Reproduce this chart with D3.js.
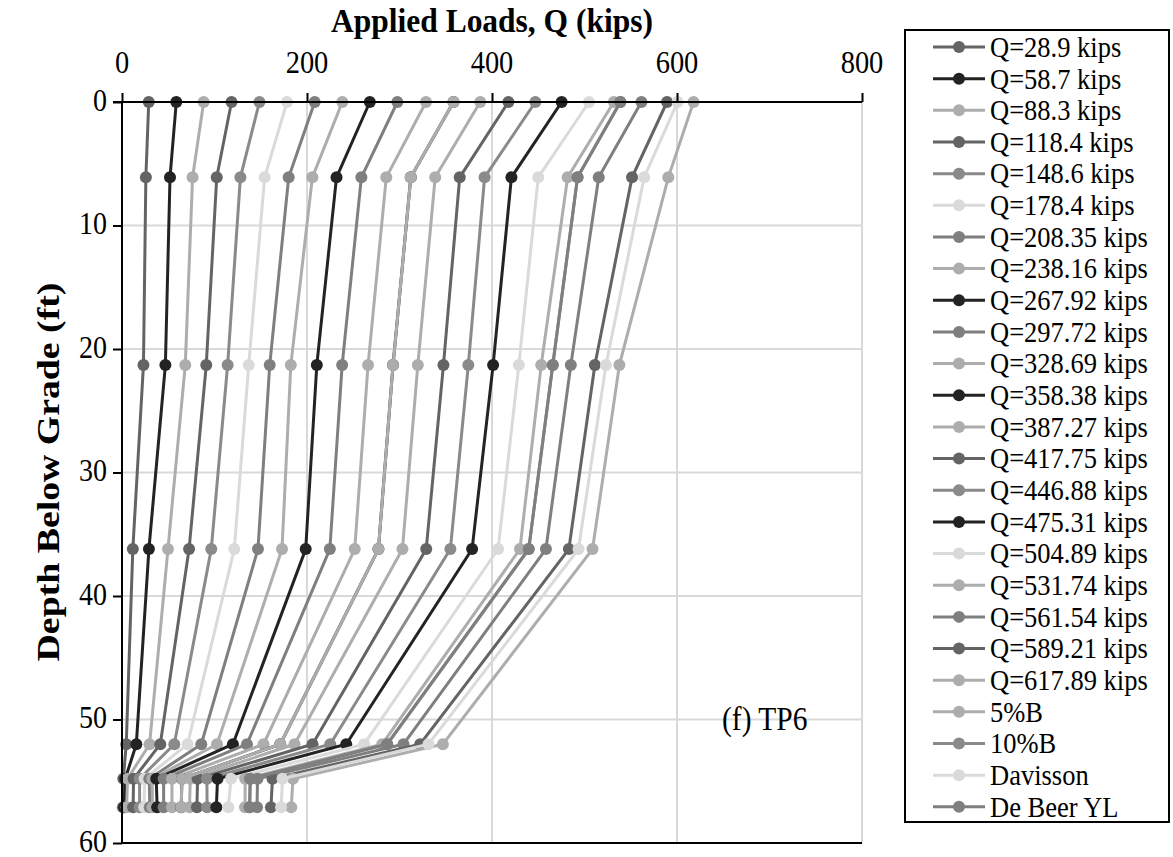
<!DOCTYPE html>
<html>
<head>
<meta charset="utf-8">
<script src="https://cdn.jsdelivr.net/npm/d3@7"></script>
<style>
  html, body { margin: 0; padding: 0; background: #fff; }
  svg { display: block; }
  text { font-family: "Liberation Serif", "Times New Roman", serif; fill: #000; }
</style>
</head>
<body>
<svg id="chart" width="1173" height="857"></svg>
<script>
// ---- data ----
const depths = [0, 6.1, 21.3, 36.2, 52, 54.8, 57.1];
const seriesNames = [
  "Q=28.9 kips", "Q=58.7 kips", "Q=88.3 kips", "Q=118.4 kips", "Q=148.6 kips",
  "Q=178.4 kips", "Q=208.35 kips", "Q=238.16 kips", "Q=267.92 kips", "Q=297.72 kips",
  "Q=328.69 kips", "Q=358.38 kips", "Q=387.27 kips", "Q=417.75 kips", "Q=446.88 kips",
  "Q=475.31 kips", "Q=504.89 kips", "Q=531.74 kips", "Q=561.54 kips", "Q=589.21 kips",
  "Q=617.89 kips", "5%B", "10%B", "Davisson", "De Beer YL"
];
const q28_9   = [28.9, 25.8, 23.2, 11.7, 4.6, 1.4, 1.0];
const q58_7   = [58.7, 51.9, 46.9, 29.1, 15.5, 3.5, 2.5];
const q88_3   = [88.3, 76.3, 68.4, 49.7, 29.8, 6, 5];
const q118_4  = [118.4, 102.4, 91.1, 72.5, 41.4, 12.5, 12];
const q148_6  = [148.6, 128, 114.2, 96.5, 56.5, 19, 19];
const q178_4  = [178.4, 154.2, 137, 121.4, 70.9, 24.4, 24];
const q208_35 = [208.35, 180.2, 159.7, 147, 85.7, 29.5, 30];
const q238_16 = [238.16, 205.8, 182.5, 173, 102.7, 32.7, 33];
const q267_92 = [267.92, 231.9, 210.6, 198.6, 119.9, 37, 38];
const q297_72 = [297.72, 258.8, 238, 224.7, 135.1, 45, 45];
const q328_69 = [328.69, 285.7, 266, 251.6, 153, 54, 54];
const q358_38 = [358.38, 312.2, 293, 277.2, 171.1, 64.8, 64];
const q387_27 = [387.27, 338.6, 319.8, 303.2, 186.5, 73.8, 73];
const q417_75 = [417.75, 365.1, 347.5, 328.9, 206, 81.7, 81];
const q446_88 = [446.88, 392, 374.4, 355, 225.1, 91.8, 92];
const q475_31 = [475.31, 421, 401.2, 378.5, 242.4, 103.3, 102];
const q504_89 = [504.89, 450, 429, 406.6, 261.8, 117.8, 115];
const q531_74 = [531.74, 481.8, 453.2, 430.2, 281.3, 133.2, 133];
const q561_54 = [561.54, 515.4, 485.2, 458.3, 304.3, 146.5, 146];
const q589_21 = [589.21, 551.4, 511.2, 483.1, 322.3, 162.7, 161];
const q617_89 = [617.89, 590.6, 537.7, 508.7, 346.9, 184.8, 183];
const b5pct   = [358.38, 312.2, 293, 277.2, 171.1, 64.8, 64];
const b10pct  = [538.8, 492.5, 465.7, 439.7, 286.7, 138.6, 138];
const davisson = [600.6, 564.5, 523.2, 493.5, 331.3, 173.5, 172];
const deBeer  = [538.8, 492.5, 465.7, 439.7, 286.7, 138.6, 138];
const seriesValues = [q28_9, q58_7, q88_3, q118_4, q148_6, q178_4, q208_35, q238_16,
  q267_92, q297_72, q328_69, q358_38, q387_27, q417_75, q446_88, q475_31, q504_89,
  q531_74, q561_54, q589_21, q617_89, b5pct, b10pct, davisson, deBeer];
const xTicks = [0, 200, 400, 600, 800];
const yTicks = [0, 10, 20, 30, 40, 50, 60];

// ---- styles ----
const C_DARK = "#646464", C_BLACK = "#232323", C_LIGHT = "#adadad",
      C_MID = "#8a8a8a", C_VLIGHT = "#dadada", C_MID2 = "#7f7f7f";
const seriesColors = [C_DARK, C_BLACK, C_LIGHT, C_DARK, C_MID, C_VLIGHT, C_MID2, C_LIGHT,
  C_BLACK, C_MID2, C_LIGHT, C_BLACK, C_LIGHT, C_DARK, C_MID, C_BLACK, C_VLIGHT, C_LIGHT,
  C_MID2, C_DARK, C_LIGHT, C_LIGHT, C_MID, C_VLIGHT, C_MID2];

const svg = d3.select("#chart");
const L = 122, R = 862, T = 102, B = 843;
const x = d3.scaleLinear().domain([0, 800]).range([L, R]);
const y = d3.scaleLinear().domain([0, 60]).range([T, B]);

// text with a slight vertical stretch (the reference text is taller than wide)
function sText(parent, px, py, str, size, opts = {}) {
  const s = opts.stretch || 1.12;
  const t = parent.append("text")
    .attr("transform", `translate(${px},${py}) scale(1,${s})${opts.rotate ? " rotate(-90)" : ""}`)
    .attr("font-size", size)
    .attr("text-anchor", opts.anchor || "start")
    .attr("dominant-baseline", opts.baseline || "auto")
    .text(str);
  if (opts.bold) t.attr("font-weight", "bold");
  return t;
}

// gridlines
const grid = svg.append("g");
grid.selectAll("line.v").data(xTicks.filter(d => d > 0)).enter().append("line")
  .attr("x1", d => x(d)).attr("x2", d => x(d)).attr("y1", T).attr("y2", B)
  .attr("stroke", "#d9d9d9").attr("stroke-width", 2);
grid.selectAll("line.h").data(yTicks.filter(d => d > 0 && d < 60)).enter().append("line")
  .attr("x1", L).attr("x2", R).attr("y1", d => y(d)).attr("y2", d => y(d))
  .attr("stroke", "#d9d9d9").attr("stroke-width", 2);

// bottom border line
svg.append("line").attr("x1", L).attr("x2", R).attr("y1", B).attr("y2", B)
  .attr("stroke", "#000").attr("stroke-width", 2);

// series
const line = d3.line().x(d => x(d[0])).y(d => y(d[1]));
seriesValues.forEach((vals, i) => {
  const pts = vals.map((v, j) => [v, depths[j]]);
  const g = svg.append("g");
  g.append("path").attr("d", line(pts)).attr("fill", "none")
    .attr("stroke", seriesColors[i]).attr("stroke-width", 3);
  g.selectAll("circle").data(pts).enter().append("circle")
    .attr("cx", d => x(d[0])).attr("cy", d => y(d[1])).attr("r", 6)
    .attr("fill", seriesColors[i]);
});

// axes (lines and ticks from d3 axes; labels drawn with stretch)
const xAxis = svg.append("g").attr("transform", `translate(0,${T})`)
  .call(d3.axisTop(x).tickValues(xTicks).tickSize(9).tickSizeOuter(0).tickFormat(""));
const yAxis = svg.append("g").attr("transform", `translate(${L},0)`)
  .call(d3.axisLeft(y).tickValues(yTicks).tickSize(9).tickSizeOuter(0).tickFormat(""));
[xAxis, yAxis].forEach(a => {
  a.select(".domain").attr("stroke", "#000").attr("stroke-width", 2);
  a.selectAll(".tick line").attr("stroke", "#000").attr("stroke-width", 2);
});
yAxis.select(".domain").attr("d", `M0,${T}V${B}`);
xAxis.select(".domain").attr("d", `M${L - 9},0H${R}`);

const xl = svg.append("g");
xTicks.forEach(d => sText(xl, x(d), 73, String(d), 28.5, { anchor: "middle" }));
const yl = svg.append("g");
yTicks.forEach(d => sText(yl, 107, y(d) - 1.5, String(d), 28, { anchor: "end", baseline: "central", stretch: 1.1 }));

// titles
sText(svg, (L + R) / 2, 32, "Applied Loads, Q (kips)", 31.5, { anchor: "middle", bold: true, stretch: 1.08 });
sText(svg, 49, 472, "Depth Below Grade (ft)", 31.5, { anchor: "middle", baseline: "central", bold: true, rotate: true, stretch: 1.2 });
sText(svg, 722, 719, "(f) TP6", 29.5, { baseline: "central" });

// legend
const lg = svg.append("g");
lg.append("rect").attr("x", 905).attr("y", 30).attr("width", 264).attr("height", 792)
  .attr("fill", "#fff").attr("stroke", "#000").attr("stroke-width", 2);
seriesNames.forEach((name, i) => {
  const cy = 47 + i * 31.66;
  lg.append("line").attr("x1", 933).attr("x2", 985).attr("y1", cy).attr("y2", cy)
    .attr("stroke", seriesColors[i]).attr("stroke-width", 3);
  lg.append("circle").attr("cx", 959).attr("cy", cy).attr("r", 6).attr("fill", seriesColors[i]);
  sText(lg, 990, cy, name, 26.5, { baseline: "central", stretch: 1.08 });
});
</script>
</body>
</html>
